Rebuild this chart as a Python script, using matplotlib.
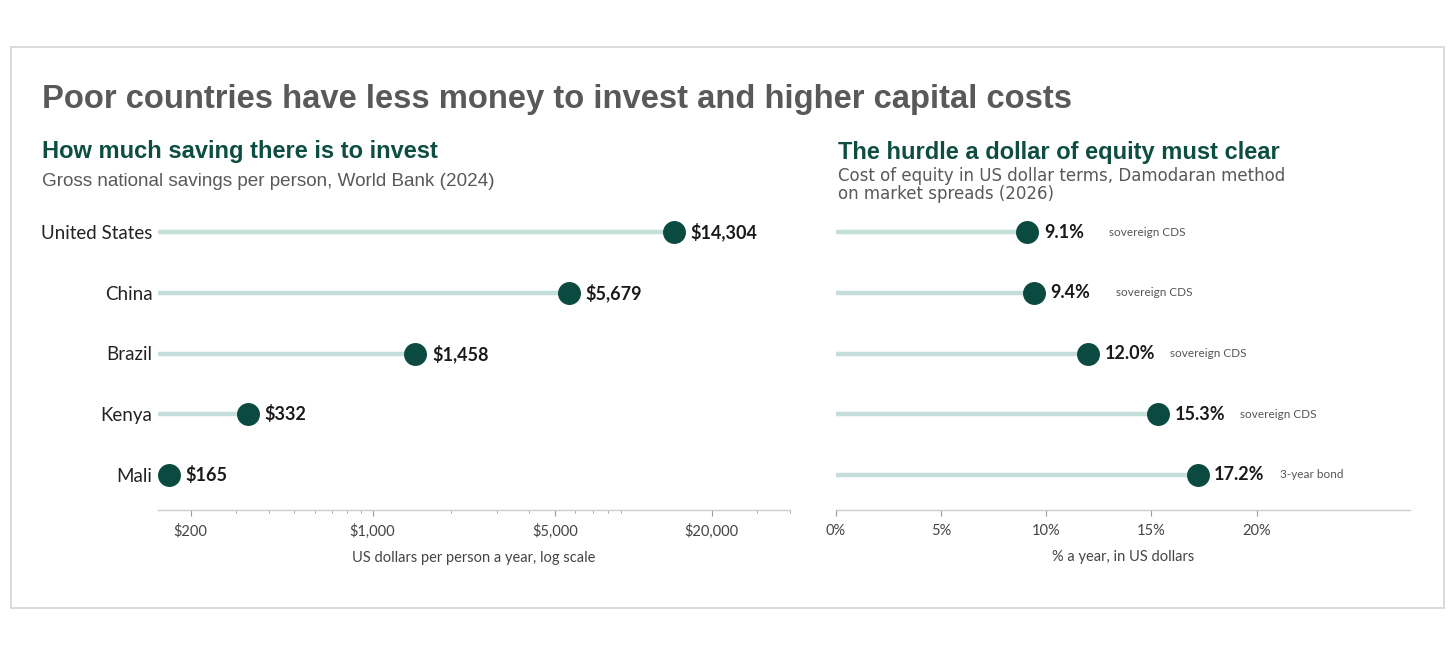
import matplotlib
matplotlib.use("Agg")
import matplotlib.pyplot as plt
from matplotlib.patches import Rectangle
from matplotlib.ticker import FixedLocator, NullFormatter

# data
countries = ["United States", "China", "Brazil", "Kenya", "Mali"]
savings = [14304, 5679, 1458, 332, 165]
savings_labels = ["$14,304", "$5,679", "$1,458", "$332", "$165"]
equity_cost = [9.1, 9.4, 12.0, 15.3, 17.2]
equity_notes = ["sovereign CDS", "sovereign CDS", "sovereign CDS", "sovereign CDS", "3-year bond"]

left_major = [200, 1000, 5000, 20000]
left_major_labels = ["$200", "$1,000", "$5,000", "$20,000"]
left_minor = [300, 400, 500, 600, 700, 800, 900, 2000, 3000, 4000,
              6000, 7000, 8000, 9000, 30000, 40000]
right_ticks = [0, 5, 10, 15, 20]
right_tick_labels = ["0%", "5%", "10%", "15%", "20%"]

DOT = "#0a4a40"
STEM = "#c4dfd9"
GREEN = "#0d4d42"
GREY = "#595959"
LAB = "Lato"
HEAD = "Liberation Sans"

W, H = 1456, 645
fig = plt.figure(figsize=(W / 100, H / 100), dpi=100)

def fx(px): return px / W
def fy(py): return 1 - py / H

fig.patches.append(Rectangle((fx(11), fy(608)), fx(1444) - fx(11), fy(47) - fy(608),
                             transform=fig.transFigure, fill=False,
                             edgecolor="#d4d4d4", lw=1.2))

fig.text(fx(42), fy(108), "Poor countries have less money to invest and higher capital costs",
         family=HEAD, weight="bold", size=23.6, color=GREY, va="baseline")
fig.text(fx(42), fy(158), "How much saving there is to invest",
         family=HEAD, weight="bold", size=17, color=GREEN, va="baseline")
fig.text(fx(42), fy(186), "Gross national savings per person, World Bank (2024)",
         family=HEAD, size=13.6, color=GREY, va="baseline")
fig.text(fx(838), fy(159), "The hurdle a dollar of equity must clear",
         family=HEAD, weight="bold", size=17, color=GREEN, va="baseline")
fig.text(fx(838), fy(199), "Cost of equity in US dollar terms, Damodaran method\non market spreads (2026)",
         family="DejaVu Sans", size=12, color=GREY, va="baseline", linespacing=0.98)

ypos = list(range(len(countries)))
top, bot = 200, 510
ylim = (4 + (bot - 475) / 60.75, -(232 - top) / 60.75)

def style(ax):
    for s in ["top", "right", "left"]:
        ax.spines[s].set_visible(False)
    ax.spines["bottom"].set_color("#cccccc")
    ax.spines["bottom"].set_linewidth(1)
    ax.tick_params(axis="y", length=0)
    ax.tick_params(axis="x", which="major", length=4, color="#999999", pad=6,
                   labelsize=10.5, labelcolor="#444444")
    ax.tick_params(axis="x", which="minor", length=2.5, color="#999999")
    for t in ax.get_xticklabels():
        t.set_family(LAB)
    ax.set_ylim(*ylim)

# left panel
ax1 = fig.add_axes([fx(158), fy(bot), fx(790) - fx(158), fy(top) - fy(bot)])
ax1.set_xscale("log")
ax1.set_xlim(150, 40000)
ax1.hlines(ypos, 150, savings, color=STEM, lw=3.2, zorder=1)
ax1.plot(savings, ypos, "o", ms=15.5, color=DOT, zorder=3, mec=DOT)
for x, y, s in zip(savings, ypos, savings_labels):
    ax1.annotate(s, (x, y), xytext=(12, 0), textcoords="offset points",
                 va="center", ha="left", family=LAB, weight="bold", size=13, color="#1a1a1a")
ax1.xaxis.set_major_locator(FixedLocator(left_major))
ax1.xaxis.set_minor_locator(FixedLocator(left_minor))
ax1.xaxis.set_minor_formatter(NullFormatter())
ax1.set_xticklabels(left_major_labels)
ax1.set_yticks(ypos)
ax1.set_yticklabels(countries, family=LAB, size=13.5, color="#222222")
ax1.tick_params(axis="y", pad=4)
style(ax1)
ax1.set_xlabel("US dollars per person a year, log scale", family=LAB, size=10.5,
               color="#444444", labelpad=9)

# right panel
ax2 = fig.add_axes([fx(836), fy(bot), fx(1410) - fx(836), fy(top) - fy(bot)])
ax2.set_xlim(0, 27.3)
ax2.hlines(ypos, 0, equity_cost, color=STEM, lw=3.2, zorder=1)
ax2.plot(equity_cost, ypos, "o", ms=15.5, color=DOT, zorder=3, mec=DOT)
for x, y, v, n in zip(equity_cost, ypos, equity_cost, equity_notes):
    ax2.annotate(f"{v:.1f}%", (x, y), xytext=(12, 0), textcoords="offset points",
                 va="center", ha="left", family=LAB, weight="bold", size=13, color="#1a1a1a")
    ax2.annotate(n, (x, y), xytext=(59, 0), textcoords="offset points",
                 va="center", ha="left", family=LAB, size=8.5, color="#555555")
ax2.set_xticks(right_ticks)
ax2.set_xticklabels(right_tick_labels)
ax2.set_yticks([])
style(ax2)
ax2.set_xlabel("% a year, in US dollars", family=LAB, size=10.5,
               color="#444444", labelpad=9)

fig.savefig("out.png", dpi=100, facecolor="white")
